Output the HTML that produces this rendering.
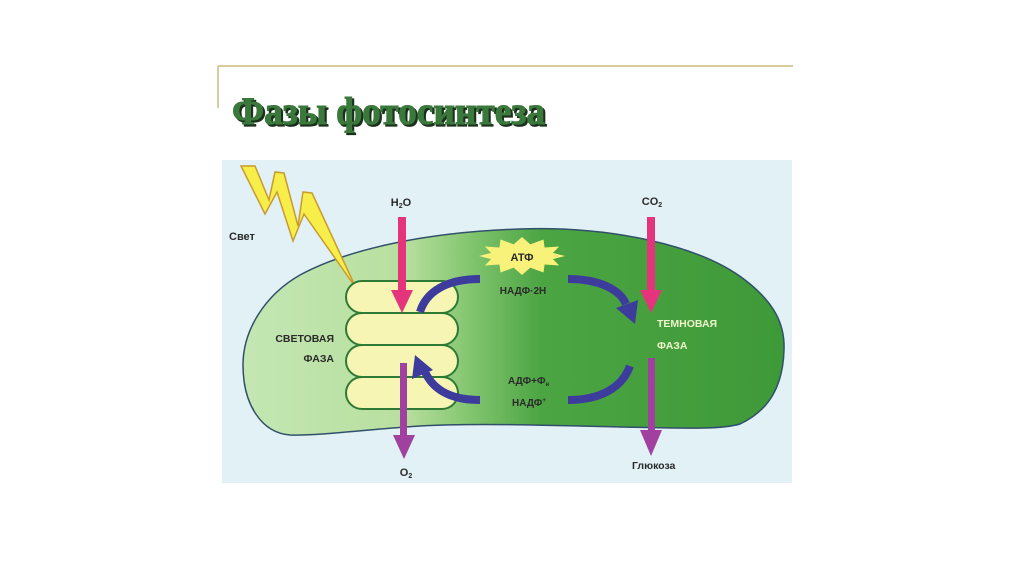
<!DOCTYPE html>
<html>
<head>
<meta charset="utf-8">
<style>
html,body{margin:0;padding:0;background:#fff;}
body{width:1024px;height:574px;overflow:hidden;}
svg{display:block;}
.lb{font-family:"Liberation Sans",sans-serif;font-weight:bold;fill:#2a2a2a;}
</style>
</head>
<body>
<svg width="1024" height="574" viewBox="0 0 1024 574" xmlns="http://www.w3.org/2000/svg">
<defs>
<linearGradient id="g" gradientUnits="userSpaceOnUse" x1="243" y1="0" x2="784" y2="0">
<stop offset="0" stop-color="#c4e7b3"/>
<stop offset="0.3" stop-color="#b8df9f"/>
<stop offset="0.42" stop-color="#82c56f"/>
<stop offset="0.55" stop-color="#4ca543"/>
<stop offset="1" stop-color="#3e9938"/>
</linearGradient>
</defs>
<rect width="1024" height="574" fill="#fff"/>
<!-- frame lines -->
<line x1="218" y1="66" x2="793" y2="66" stroke="#c9bb80" stroke-width="1.5"/>
<line x1="218" y1="66" x2="218" y2="108" stroke="#c9bb80" stroke-width="1.5"/>
<!-- title -->
<text x="234" y="126" textLength="313" lengthAdjust="spacingAndGlyphs" font-family="Liberation Serif, serif" font-weight="bold" font-size="39" fill="#1a301b" stroke="#1a301b" stroke-width="1.2">Фазы фотосинтеза</text>
<text x="232" y="124" textLength="313" lengthAdjust="spacingAndGlyphs" font-family="Liberation Serif, serif" font-weight="bold" font-size="39" fill="#3a783c" stroke="#3a783c" stroke-width="1">Фазы фотосинтеза</text>
<!-- panel -->
<rect x="222" y="160" width="570" height="323" fill="#e1f1f5"/>
<!-- chloroplast -->
<path d="M 243 365 C 243 330, 265 295, 300 275 C 350 248, 430 232, 520 229 C 610 226, 700 245, 745 280 C 775 303, 785 325, 784 350 C 783 385, 770 410, 740 424 C 720 430, 680 428, 620 427 C 540 425, 470 423, 420 426 C 370 429, 320 436, 290 435 C 262 433, 243 405, 243 365 Z" fill="url(#g)" stroke="#30506a" stroke-width="1.5"/>
<!-- lightning -->
<polygon points="241,166 255,166 269,200 275,172 284,173 298,226 303,192 312,193 356,288 304,214 293,241 277,192 265,214" fill="#f7ee4a" stroke="#c99a30" stroke-width="1.5" stroke-linejoin="miter"/>
<!-- thylakoid stack -->
<g fill="#f7f5b4" stroke="#2e7a35" stroke-width="2">
<rect x="346" y="377" width="112" height="32" rx="16"/>
<rect x="346" y="345" width="112" height="32" rx="16"/>
<rect x="346" y="313" width="112" height="32" rx="16"/>
<rect x="346" y="281" width="112" height="32" rx="16"/>
</g>
<!-- pink arrows -->
<g fill="#e4357c">
<rect x="398" y="217" width="8" height="75"/>
<polygon points="391,290 413,290 402,313"/>
<rect x="647" y="217" width="8" height="75"/>
<polygon points="640,290 662,290 651,313"/>
</g>
<!-- purple arrows -->
<g fill="#a0409f">
<rect x="400" y="363" width="7" height="74"/>
<polygon points="393,435 415,435 404,459"/>
<rect x="648" y="358" width="7" height="74"/>
<polygon points="640,430 662,430 651,456"/>
</g>
<!-- blue arcs -->
<g fill="none" stroke="#3d3c9c" stroke-width="8">
<path d="M 420 312 C 426 292, 446 279, 480 279"/>
<path d="M 480 400 C 452 400, 434 391, 425 372"/>
<path d="M 568 279 C 600 279, 620 290, 626 304"/>
<path d="M 630 366 C 622 388, 600 400, 568 400"/>
</g>
<g fill="#3d3c9c">
<polygon points="415,355 433,370 412,379"/>
<polygon points="638,300 616,308 635,324"/>
</g>
<!-- ATP star -->
<polygon points="565,256 552.9,259.1 559.2,265.5 544.6,264.5 543.5,272.5 530.3,267.6 522,275 513.7,267.6 500.5,272.5 499.4,264.5 484.8,265.5 491.1,259.1 479,256 491.1,252.9 484.8,246.5 499.4,247.5 500.5,239.5 513.7,244.4 522,237 530.3,244.4 543.5,239.5 544.6,247.5 559.2,246.5 552.9,252.9" fill="#f8f27a"/>
<!-- labels -->
<text class="lb" x="229" y="240" font-size="11">Свет</text>
<text class="lb" x="401" y="206" font-size="11" text-anchor="middle">H<tspan font-size="7" dy="2">2</tspan><tspan dy="-2">O</tspan></text>
<text class="lb" x="652" y="205" font-size="11" text-anchor="middle">CO<tspan font-size="7" dy="2">2</tspan></text>
<text class="lb" x="522" y="261" font-size="11" text-anchor="middle">АТФ</text>
<text class="lb" x="523" y="294" font-size="10" text-anchor="middle">НАДФ·2Н</text>
<text class="lb" x="508" y="384" font-size="10">АДФ+Ф<tspan font-size="6" dy="2">н</tspan></text>
<text class="lb" x="512" y="406" font-size="10">НАДФ<tspan font-size="6" dy="-4">+</tspan></text>
<text class="lb" x="334" y="342" font-size="10.5" text-anchor="end">СВЕТОВАЯ</text>
<text class="lb" x="334" y="362" font-size="10.5" text-anchor="end">ФАЗА</text>
<text class="lb" x="657" y="327" font-size="10.5" style="fill:#eef4cc">ТЕМНОВАЯ</text>
<text class="lb" x="657" y="349" font-size="10.5" style="fill:#eef4cc">ФАЗА</text>
<text class="lb" x="632" y="469" font-size="10.5">Глюкоза</text>
<text class="lb" x="406" y="476" font-size="11" text-anchor="middle">O<tspan font-size="7" dy="2">2</tspan></text>
</svg>
</body>
</html>
